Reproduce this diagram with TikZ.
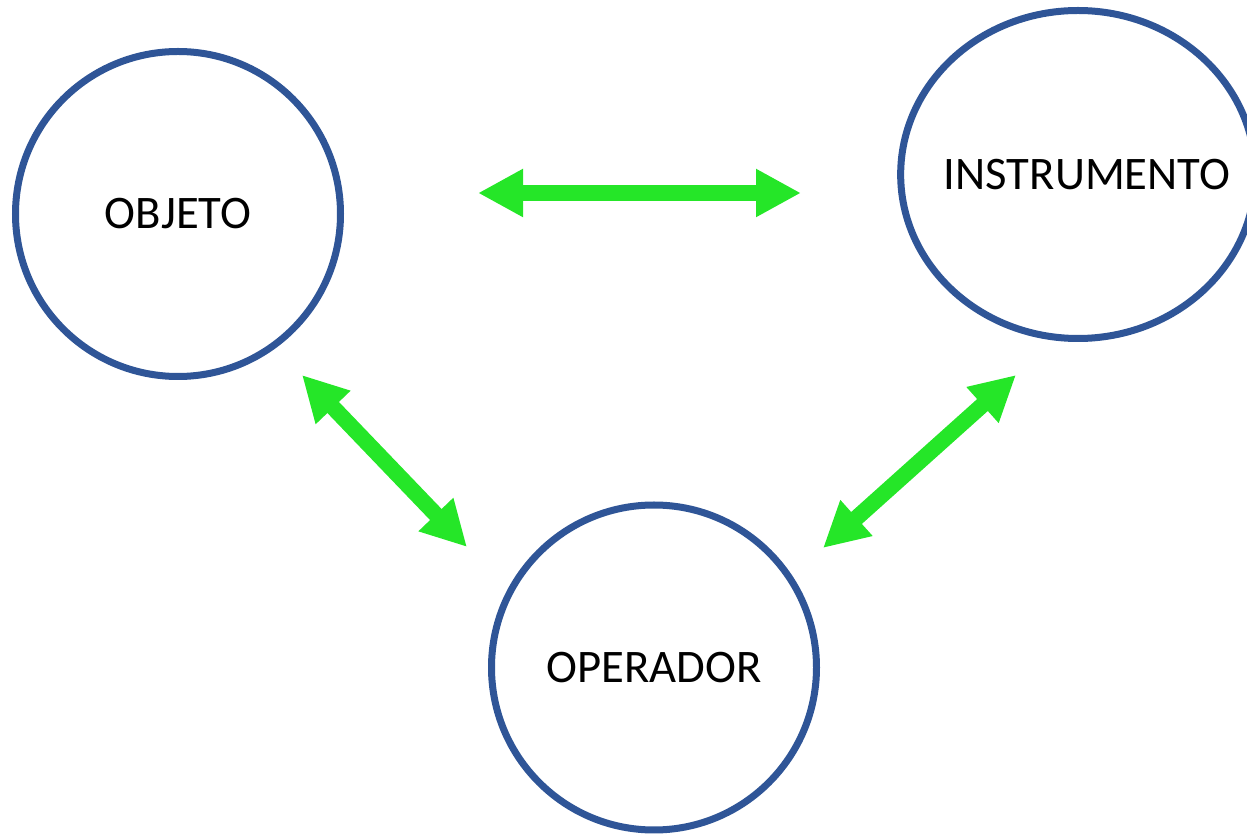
\documentclass[tikz,border=0pt]{standalone}
\usepackage{fontspec}
\setmainfont{Carlito}
\usetikzlibrary{arrows.meta,shapes.geometric}
\definecolor{ringline}{HTML}{2F5597}
\definecolor{linkfill}{HTML}{25E628}
\tikzset{
  ring/.style={draw=ringline, line width=5.25pt, fill=white, inner sep=0pt,
               font=\fontsize{35}{42}\selectfont},
  part/.style={ring, circle, minimum size=243.75pt},
  tool/.style={ring, ellipse, minimum width=266pt, minimum height=246pt},
  link/.style={{Triangle[length=33.75pt, width=33.75pt]}-{Triangle[length=33.75pt, width=33.75pt]},
               line width=12pt, draw=linkfill},
}
\begin{document}
\begin{tikzpicture}[x=0.75pt, y=0.75pt]
\useasboundingbox (0,0) rectangle (1247,836);

% ---- the three elements ---------------------------------------------------
\node[part] (objeto) at (178,622) {OBJETO};
\node[tool, label={[font=\fontsize{35}{42}\selectfont, xshift=6.75pt]center:INSTRUMENTO}]
  (instrumento) at (1078,661.5) {};
\node[part] (operador) at (654,168.5) {OPERADOR};

% ---- free ends of the links -----------------------------------------------
\coordinate (oi1) at (478,643);
\coordinate (oi2) at (801,643);
\coordinate (oo1) at (302,461);
\coordinate (oo2) at (467,289);
\coordinate (io1) at (1016,461);
\coordinate (io2) at (823,288);

% ---- links ----------------------------------------------------------------
\draw[link] (oi1) -- (oi2);
\draw[link] (oo1) -- (oo2);
\draw[link] (io1) -- (io2);
\end{tikzpicture}
\end{document}
